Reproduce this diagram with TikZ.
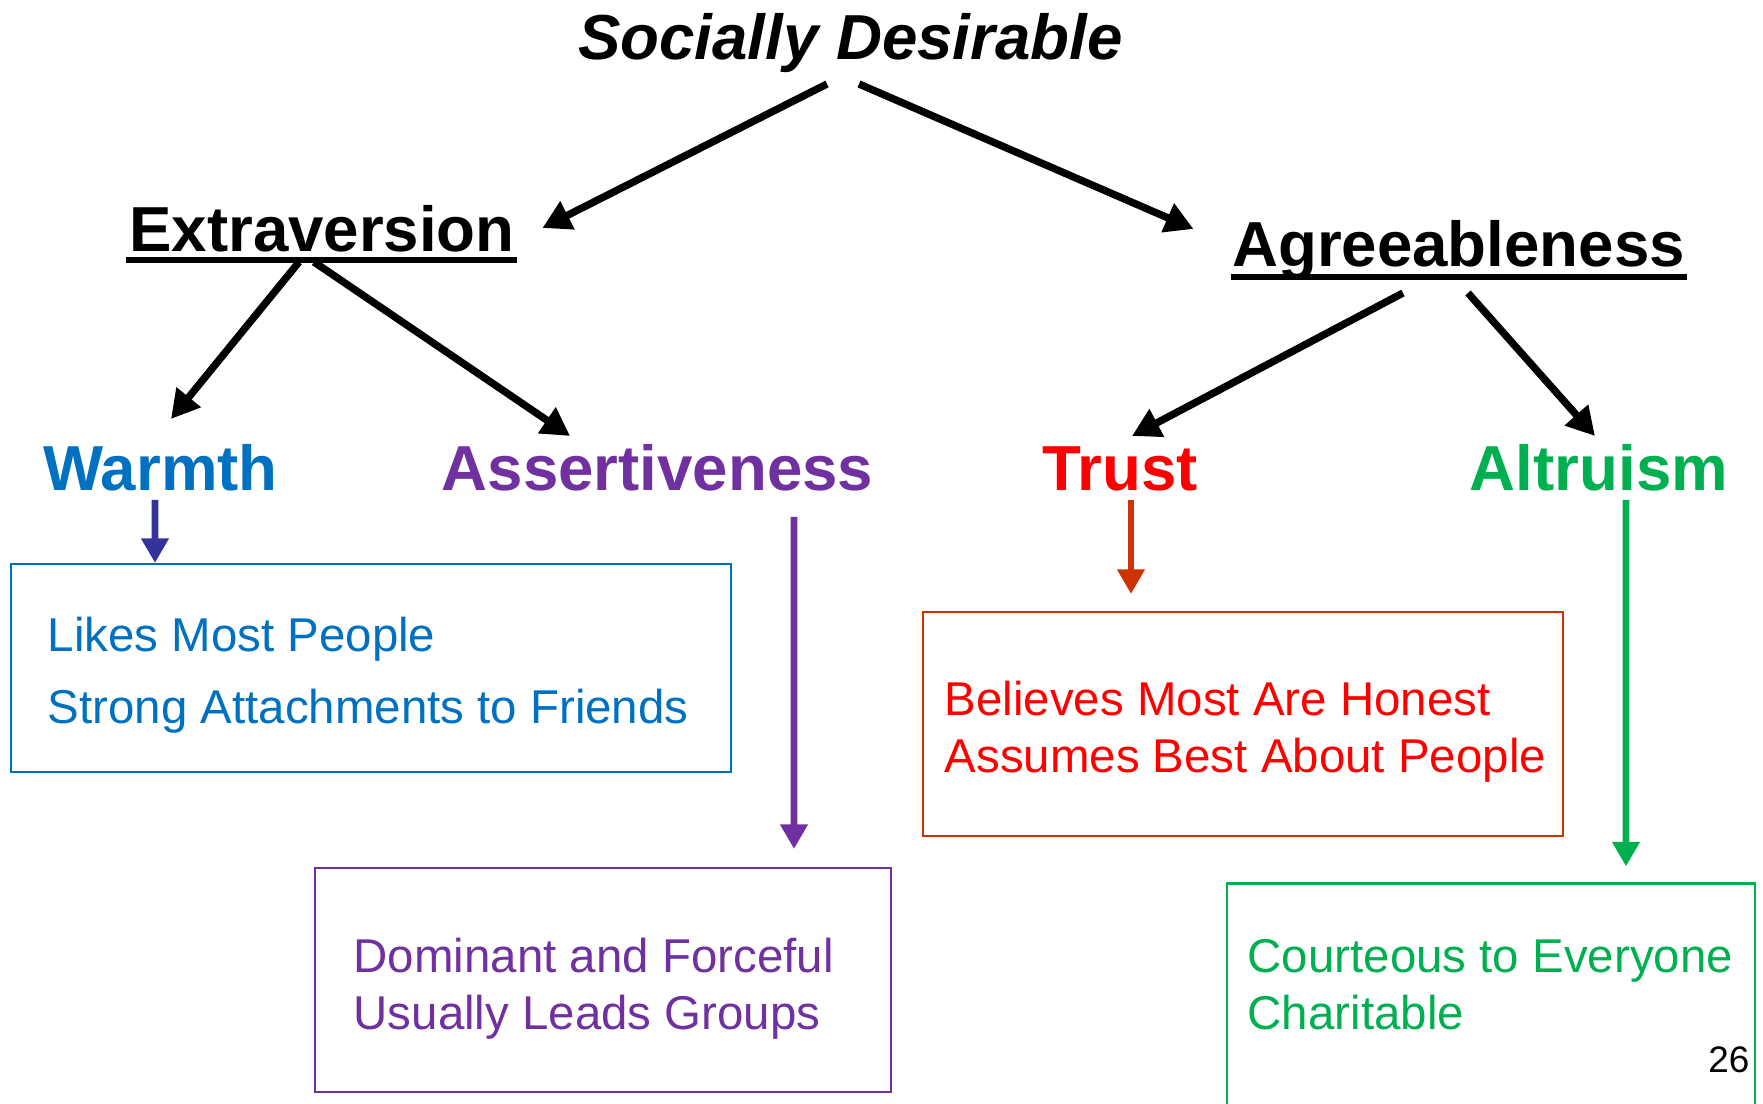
\documentclass[tikz,border=0pt]{standalone}
\usepackage{fontspec}
\setmainfont{Liberation Sans}
\usepackage{tikz}
\usetikzlibrary{arrows.meta,positioning,calc}
\definecolor{warmblue}{RGB}{0,112,192}
\definecolor{warmarrow}{RGB}{51,51,153}
\definecolor{assertpurple}{RGB}{112,48,160}
\definecolor{trustred}{RGB}{255,0,0}
\definecolor{trustline}{RGB}{204,51,0}
\definecolor{altrugreen}{RGB}{0,176,80}

\begin{document}
\begin{tikzpicture}[
	head/.style={inner sep=0pt,anchor=base,font=\bfseries\fontsize{18.1}{22}\selectfont},
	boxtext/.style={inner sep=0pt,anchor=base west,align=left,font=\fontsize{13.5}{16.5}\selectfont},
	facetbox/.style={draw,line width=0.6pt,inner sep=0pt},
	bigarrow/.style={line width=2.1pt,-{Triangle[length=8pt,width=8.5pt]}},
	facetarrow/.style={line width=1.9pt,-{Triangle[length=7pt,width=7.5pt]}},
	uline/.style={line width=1.6pt}]
	\useasboundingbox (0,0) rectangle (17.63,-11.04);
	% top and the two factors
	\node (social) at (8.505,-0.60) [head,font=\bfseries\itshape\fontsize{18.1}{22}\selectfont] {Socially Desirable};
	\node (ext) at (3.22,-2.52) [head] {Extraversion};
	\node (agr) at (14.585,-2.67) [head] {Agreeableness};
	\draw[uline] ([xshift=-0.03cm,yshift=-0.08cm]ext.base west) -- ([xshift=0.02cm,yshift=-0.08cm]ext.base east);
	\draw[uline] ([xshift=-0.01cm,yshift=-0.10cm]agr.base west) -- ([xshift=0.01cm,yshift=-0.10cm]agr.base east);
	% facets
	\node (warm) at (1.605,-4.91) [head,warmblue] {Warmth};
	\node (assert) at (6.575,-4.91) [head,assertpurple] {Assertiveness};
	\node (trust) at (11.20,-4.91) [head,trustred] {Trust};
	\node (altru) at (15.99,-4.91) [head,altrugreen] {Altruism};
	% boxes (text node base = last line)
	\node (warmbox) at (3.71,-6.68) [facetbox,warmblue,minimum width=7.20cm,minimum height=2.08cm] {};
	\node (warmtext) at (0.47,-7.24) [boxtext,warmblue,font=\fontsize{13.5}{20.5}\selectfont] {Likes Most People\\Strong Attachments to Friends};
	\node (assertbox) at (6.03,-9.80) [facetbox,assertpurple,minimum width=5.76cm,minimum height=2.24cm] {};
	\node (asserttext) at (3.53,-10.30) [boxtext,assertpurple] {Dominant and Forceful\\Usually Leads Groups};
	\node (trustbox) at (12.43,-7.24) [facetbox,trustline,minimum width=6.40cm,minimum height=2.24cm] {};
	\node (trusttext) at (9.44,-7.73) [boxtext,trustred] {Believes Most Are Honest\\Assumes Best About People};
	\node (altrubox) at (14.91,-10.07) [facetbox,altrugreen,minimum width=5.28cm,minimum height=2.47cm] {};
	\node (altrutext) at (12.47,-10.30) [boxtext,altrugreen] {Courteous to Everyone\\Charitable};
	\node (page) at (17.50,-10.73) [inner sep=0pt,anchor=base east,font=\fontsize{10.5}{12}\selectfont] {26};
	% black arrows
	\draw[bigarrow] ([xshift=-0.235cm,yshift=-0.24cm]social.base) -- ([xshift=0.27cm,yshift=0.24cm]ext.base east);
	\draw[bigarrow] ([xshift=0.085cm,yshift=-0.24cm]social.base) -- ([xshift=-0.38cm,yshift=0.38cm]agr.base west);
	\draw[bigarrow] ([xshift=-0.23cm,yshift=-0.10cm]ext.base) -- ([xshift=0.105cm,yshift=0.72cm]warm.base);
	\draw[bigarrow] ([xshift=-0.08cm,yshift=-0.10cm]ext.base) -- ([xshift=1.29cm,yshift=0.55cm]assert.base west);
	\draw[bigarrow] ([xshift=-0.555cm,yshift=-0.26cm]agr.base) -- ([xshift=0.12cm,yshift=0.55cm]trust.base);
	\draw[bigarrow] ([xshift=0.095cm,yshift=-0.26cm]agr.base) -- ([xshift=-0.04cm,yshift=0.55cm]altru.base);
	% coloured arrows
	\draw[facetarrow,warmarrow] ([xshift=-0.055cm,yshift=-0.09cm]warm.base) -- ([xshift=-2.16cm]warmbox.north);
	\draw[facetarrow,assertpurple] ([xshift=1.365cm,yshift=-0.26cm]assert.base) -- ([xshift=1.91cm,yshift=0.18cm]assertbox.north);
	\draw[facetarrow,trustline] ([xshift=0.11cm,yshift=-0.09cm]trust.base) -- ([xshift=-1.12cm,yshift=0.17cm]trustbox.north);
	\draw[facetarrow,altrugreen] ([xshift=0.27cm,yshift=-0.09cm]altru.base) -- ([xshift=1.35cm,yshift=0.16cm]altrubox.north);
\end{tikzpicture}
\end{document}
